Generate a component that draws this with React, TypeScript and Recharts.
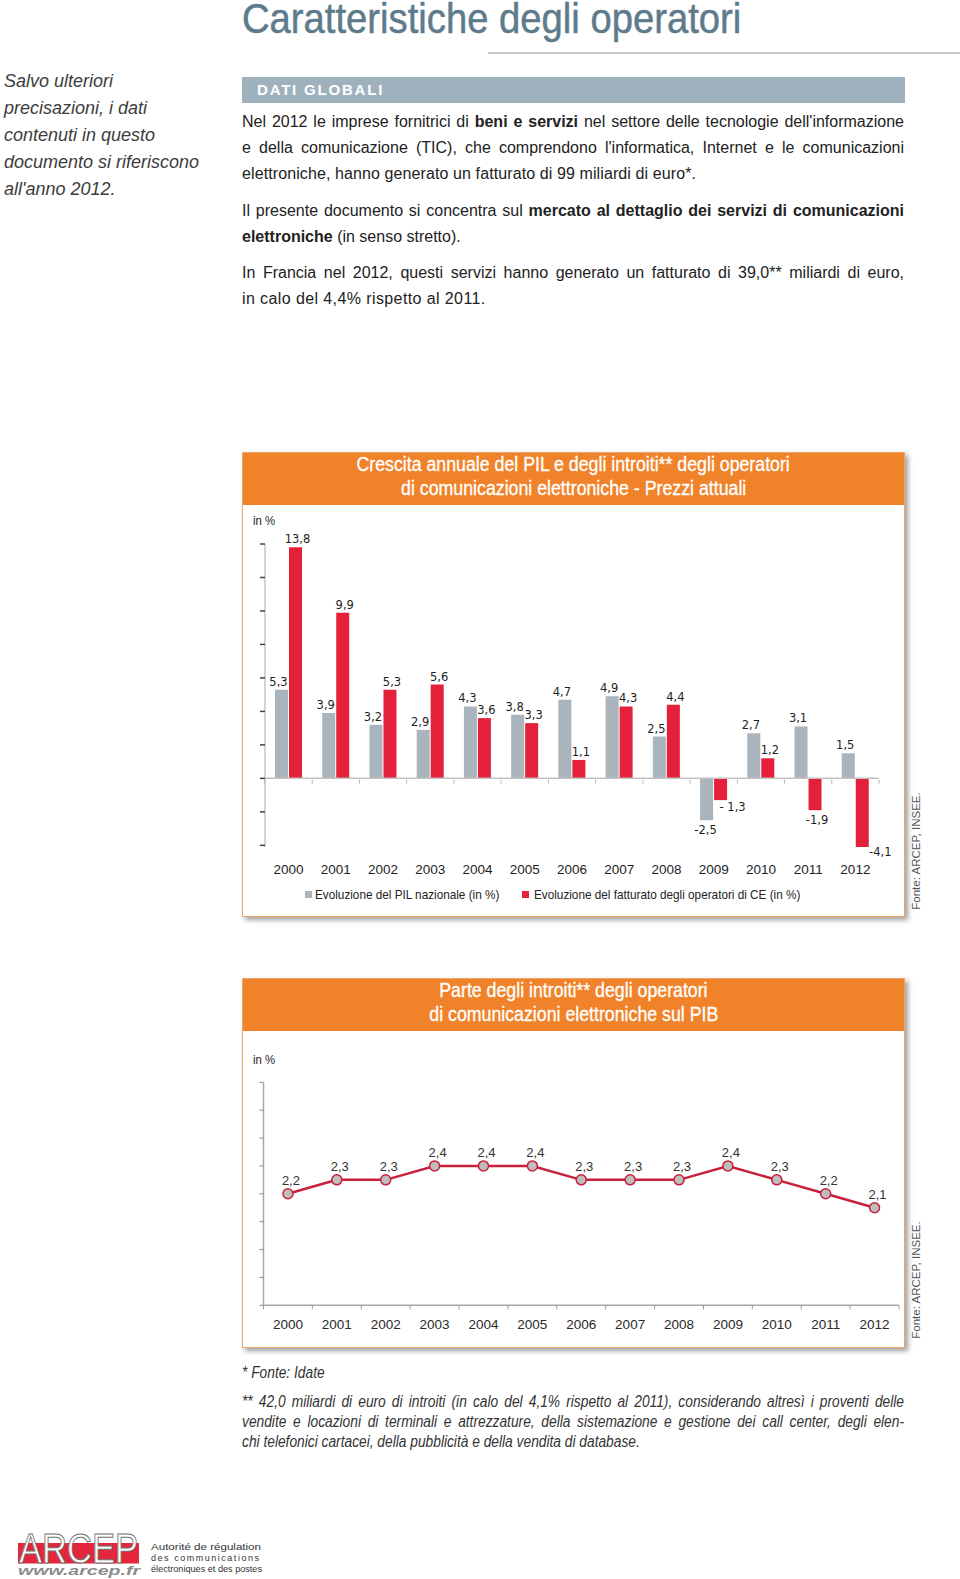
import React from 'react';
import { BarChart, Bar, XAxis, YAxis, ReferenceLine, LabelList, Legend, LineChart, Line } from 'recharts';

// ---------- DATA ----------
const years = ['2000', '2001', '2002', '2003', '2004', '2005', '2006', '2007', '2008', '2009', '2010', '2011', '2012'];
const gdpGrowth = [5.3, 3.9, 3.2, 2.9, 4.3, 3.8, 4.7, 4.9, 2.5, -2.5, 2.7, 3.1, 1.5];
const revenueGrowth = [13.8, 9.9, 5.3, 5.6, 3.6, 3.3, 1.1, 4.3, 4.4, -1.3, 1.2, -1.9, -4.1];
const revenueGrowthLabels = ['13,8', '9,9', '5,3', '5,6', '3,6', '3,3', '1,1', '4,3', '4,4', '- 1,3', '1,2', '-1,9', '-4,1'];
const growthTicks = [-4, -2, 0, 2, 4, 6, 8, 10, 12, 14];
const revenueShareOfGdp = [2.2, 2.3, 2.3, 2.4, 2.4, 2.4, 2.3, 2.3, 2.3, 2.4, 2.3, 2.2, 2.1];
const shareTicks = [1.4, 1.6, 1.8, 2.0, 2.2, 2.4, 2.6, 2.8, 3.0];

const growthData = years.map((year, i) => ({ year, gdp: gdpGrowth[i], revenue: revenueGrowth[i] }));
const shareData = years.map((year, i) => ({ year, share: revenueShareOfGdp[i] }));

const fmt = (v: number) => v.toFixed(1).replace('.', ',');

// ---------- STYLE ----------
const SANS = '"Liberation Sans", Arial, Helvetica, sans-serif';
const VERDANA = '"DejaVu Sans", Verdana, sans-serif';
const TITLE_COLOR = '#5d7b8b';
const BAR_GREY = '#a9b4bd';
const BAR_RED = '#e4203b';
const ORANGE = '#f08329';
const BOX_BORDER = '#efa66b';
const LINE_RED = '#c9203d';

const BOX_LEFT = 242;
const BOX_W = 663;

const C1 = { top: 505, height: 412, margin: { top: 39, right: 26, bottom: 40, left: 0 }, yAxisW: 23, xAxisH: 30 };
const C1_PLOT_W = BOX_W - C1.yAxisW - C1.margin.right;
const C1_PLOT_H = C1.height - C1.margin.top - C1.margin.bottom - C1.xAxisH;
const G_MIN = -4;
const G_MAX = 14;

const C2 = { top: 1031, height: 317, margin: { top: 51.3, right: 6, bottom: 12.7, left: 0 }, yAxisW: 21.5, xAxisH: 30 };
const C2_PLOT_W = BOX_W - C2.yAxisW - C2.margin.right;

// label nudges (dx, dy) for a few bar labels, as in the original layout
const growthLabelNudge: Record<string, [number, number]> = {
  'gdp-9': [2, 0],
  'revenue-9': [10, -3],
  'revenue-12': [16, -5],
};

const Squeeze = ({ s, origin = 'left', children, style }: { s: number; origin?: string; children: React.ReactNode; style?: React.CSSProperties }) => (
  <span style={{ display: 'inline-block', transform: `scaleX(${s})`, transformOrigin: `${origin} center`, whiteSpace: 'nowrap', ...style }}>{children}</span>
);

function makeBarLabel(series: 'gdp' | 'revenue') {
  return (props: any) => {
    const vb = props.viewBox && props.viewBox.width !== undefined ? props.viewBox : props;
    const { x, y, width, height } = vb;
    const index = props.index;
    const value = series === 'gdp' ? gdpGrowth[index] : revenueGrowth[index];
    const text = series === 'gdp' ? fmt(value) : revenueGrowthLabels[index];
    const top = Math.min(y, y + height);
    const bottom = Math.max(y, y + height);
    const nudge = growthLabelNudge[`${series}-${index}`] || [0, 0];
    const cx = x + width / 2 + (series === 'gdp' ? -3 : 2) + nudge[0];
    const cy = (value >= 0 ? top - 8 : bottom + 10) + nudge[1];
    return (
      <text x={cx} y={cy} textAnchor="middle" dominantBaseline="central" fontFamily={VERDANA} fontSize={11.5} fill="#1e1e1e">
        {text}
      </text>
    );
  };
}

const EmptyTick = () => <g />;

const GrowthYearTick = (props: any) => {
  const { x, y, payload, index } = props;
  const band = C1_PLOT_W / years.length;
  const zeroY = y - (C1_PLOT_H * (0 - G_MIN)) / (G_MAX - G_MIN);
  return (
    <g>
      <line x1={x - band / 2} x2={x - band / 2} y1={zeroY} y2={zeroY + 4} stroke="#b5b5b5" />
      {index === years.length - 1 && <line x1={x + band / 2} x2={x + band / 2} y1={zeroY} y2={zeroY + 4} stroke="#b5b5b5" />}
      <text x={x} y={y + 22} textAnchor="middle" dominantBaseline="central" fontFamily={SANS} fontSize={13.5} fill="#1e1e1e">
        {payload.value}
      </text>
    </g>
  );
};

const ShareYearTick = (props: any) => {
  const { x, y, payload, index } = props;
  const band = C2_PLOT_W / years.length;
  return (
    <g>
      <line x1={x - band / 2} x2={x - band / 2} y1={y} y2={y + 4} stroke="#9a9a9a" />
      {index === years.length - 1 && <line x1={x + band / 2} x2={x + band / 2} y1={y} y2={y + 4} stroke="#9a9a9a" />}
      <text x={x} y={y + 19} textAnchor="middle" dominantBaseline="central" fontFamily={SANS} fontSize={13.5} fill="#2a2a2a">
        {payload.value}
      </text>
    </g>
  );
};

const ShareLabel = (props: any) => {
  const { x, y, index } = props;
  const v = revenueShareOfGdp[index];
  return (
    <text x={x + 3} y={y - 13} textAnchor="middle" dominantBaseline="central" fontFamily={SANS} fontSize={13} fill="#333">
      {fmt(v)}
    </text>
  );
};

const GrowthLegend = () => (
  <div style={{ position: 'relative', height: 18, width: BOX_W, fontFamily: SANS, fontSize: 13.5, color: '#222' }}>
    <span style={{ position: 'absolute', left: 63, top: 5, width: 7, height: 7, background: BAR_GREY }} />
    <span style={{ position: 'absolute', left: 73, top: 0, lineHeight: '18px' }}>
      <Squeeze s={0.87}>Evoluzione del PIL nazionale (in %)</Squeeze>
    </span>
    <span style={{ position: 'absolute', left: 280, top: 5, width: 7, height: 7, background: BAR_RED }} />
    <span style={{ position: 'absolute', left: 292, top: 0, lineHeight: '18px' }}>
      <Squeeze s={0.87}>Evoluzione del fatturato degli operatori di CE (in %)</Squeeze>
    </span>
  </div>
);

const justLine: React.CSSProperties = { textAlign: 'justify', textAlignLast: 'justify' as any };

const Box = ({ top, height, lines }: { top: number; height: number; lines: string[] }) => (
  <div
    style={{
      position: 'absolute',
      left: BOX_LEFT,
      top,
      width: BOX_W,
      height,
      boxSizing: 'border-box',
      border: `1.5px solid ${BOX_BORDER}`,
      background: '#fff',
      boxShadow: '3px 3px 5px rgba(0,0,0,0.38)',
    }}
  >
    <div
      style={{
        height: 52,
        background: ORANGE,
        color: '#fff',
        fontFamily: SANS,
        fontSize: 19.5,
        lineHeight: '23.5px',
        textAlign: 'center',
        WebkitTextStroke: '0.3px #fff',
      }}
    >
      {lines.map((l) => (
        <div key={l}>
          <Squeeze s={0.91} origin="center">
            {l}
          </Squeeze>
        </div>
      ))}
    </div>
  </div>
);

const Fonte = ({ cx, cy }: { cx: number; cy: number }) => (
  <div
    style={{
      position: 'absolute',
      left: cx - 70,
      top: cy - 7,
      width: 140,
      height: 14,
      lineHeight: '14px',
      textAlign: 'center',
      transform: 'rotate(-90deg)',
      transformOrigin: 'center',
      fontFamily: SANS,
      fontSize: 11.5,
      color: '#555',
      whiteSpace: 'nowrap',
    }}
  >
    Fonte: ARCEP, INSEE.
  </div>
);

const FOOT_S = 0.86;

export default function App() {
  return (
    <div style={{ position: 'absolute', left: 0, top: 0, width: 960, height: 1579, background: '#fff', overflow: 'hidden', fontFamily: SANS }}>
      {/* Title */}
      <div style={{ position: 'absolute', left: 242, top: 0, fontFamily: SANS, fontSize: 42, lineHeight: '37px', color: TITLE_COLOR, WebkitTextStroke: `0.5px ${TITLE_COLOR}` }}>
        <Squeeze s={0.91}>Caratteristiche degli operatori</Squeeze>
      </div>
      <div style={{ position: 'absolute', left: 488, top: 52, width: 472, height: 1.5, background: '#c9cdd0' }} />

      {/* Sidebar */}
      <div style={{ position: 'absolute', left: 4, top: 67.5, fontFamily: SANS, fontStyle: 'italic', fontSize: 18, lineHeight: '27px', color: '#3c3c3c', whiteSpace: 'nowrap' }}>
        <div>Salvo ulteriori</div>
        <div>precisazioni, i dati</div>
        <div>contenuti in questo</div>
        <div>documento si riferiscono</div>
        <div>all'anno 2012.</div>
      </div>

      {/* Dati globali */}
      <div
        style={{
          position: 'absolute',
          left: BOX_LEFT,
          top: 77,
          width: BOX_W,
          height: 26,
          background: '#9fb1bd',
          color: '#fff',
          fontWeight: 'bold',
          fontSize: 15,
          letterSpacing: 1.8,
          lineHeight: '26px',
          paddingLeft: 15,
          boxSizing: 'border-box',
        }}
      >
        DATI GLOBALI
      </div>
      <div style={{ position: 'absolute', left: BOX_LEFT, top: 109, width: BOX_W - 1, fontSize: 16, lineHeight: '26px', color: '#222' }}>
        <div style={justLine}>
          Nel 2012 le imprese fornitrici di <b>beni e servizi</b> nel settore delle tecnologie dell'informazione
        </div>
        <div style={justLine}>e della comunicazione (TIC), che comprendono l'informatica, Internet e le comunicazioni</div>
        <div style={{ letterSpacing: 0.1 }}>elettroniche, hanno generato un fatturato di 99 miliardi di euro*.</div>
        <div style={{ ...justLine, marginTop: 11 }}>
          Il presente documento si concentra sul <b>mercato al dettaglio dei servizi di comunicazioni</b>
        </div>
        <div>
          <b>elettroniche</b> (in senso stretto).
        </div>
        <div style={{ ...justLine, marginTop: 10 }}>
          In Francia nel 2012, questi servizi hanno generato un fatturato di 39,0** miliardi di euro,
        </div>
        <div style={{ letterSpacing: 0.4 }}>in calo del 4,4% rispetto al 2011.</div>
      </div>

      {/* Chart 1 */}
      <Box top={452} height={465} lines={['Crescita annuale del PIL e degli introiti** degli operatori', 'di comunicazioni elettroniche - Prezzi attuali']} />
      <div style={{ position: 'absolute', left: 253, top: 513, fontSize: 13, lineHeight: '16px', color: '#222' }}>
        <Squeeze s={0.87}>in %</Squeeze>
      </div>
      <div style={{ position: 'absolute', left: BOX_LEFT, top: C1.top }}>
        <BarChart width={BOX_W} height={C1.height} data={growthData} margin={C1.margin} barSize={13} barGap={1}>
          <XAxis
            dataKey="year"
            height={C1.xAxisH}
            axisLine={false}
            tickLine={false}
            tickSize={0}
            tickMargin={0}
            interval={0}
            tick={<GrowthYearTick />}
          />
          <YAxis
            type="number"
            width={C1.yAxisW}
            domain={[G_MIN, G_MAX]}
            ticks={growthTicks}
            interval={0}
            tick={<EmptyTick />}
            tickSize={5}
            axisLine={{ stroke: '#c6c6c6', strokeWidth: 1.5 }}
            tickLine={{ stroke: '#444', strokeWidth: 1.5 }}
          />
          <Bar dataKey="gdp" fill={BAR_GREY} isAnimationActive={false}>
            <LabelList dataKey="gdp" content={makeBarLabel('gdp')} />
          </Bar>
          <Bar dataKey="revenue" fill={BAR_RED} isAnimationActive={false}>
            <LabelList dataKey="revenue" content={makeBarLabel('revenue')} />
          </Bar>
          <ReferenceLine y={0} stroke="#c2c2c2" strokeWidth={1.5} />
          <Legend layout="horizontal" verticalAlign="middle" align="center" wrapperStyle={{ top: 381, left: 0, width: BOX_W, height: 18 }} content={() => <GrowthLegend />} />
        </BarChart>
      </div>
      <Fonte cx={916} cy={851} />

      {/* Chart 2 */}
      <Box top={978} height={370} lines={['Parte degli introiti** degli operatori', 'di comunicazioni elettroniche sul PIB']} />
      <div style={{ position: 'absolute', left: 253, top: 1052, fontSize: 13, lineHeight: '16px', color: '#222' }}>
        <Squeeze s={0.87}>in %</Squeeze>
      </div>
      <div style={{ position: 'absolute', left: BOX_LEFT, top: C2.top }}>
        <LineChart width={BOX_W} height={C2.height} data={shareData} margin={C2.margin}>
          <XAxis
            dataKey="year"
            scale="band"
            height={C2.xAxisH}
            axisLine={{ stroke: '#a8a8a8', strokeWidth: 1.5 }}
            tickLine={false}
            tickSize={0}
            tickMargin={0}
            interval={0}
            tick={<ShareYearTick />}
          />
          <YAxis
            type="number"
            width={C2.yAxisW}
            domain={[1.4, 3.0]}
            ticks={shareTicks}
            interval={0}
            tick={<EmptyTick />}
            tickSize={4}
            axisLine={{ stroke: '#a8a8a8', strokeWidth: 1.5 }}
            tickLine={{ stroke: '#8a8a8a', strokeWidth: 1 }}
          />
          <Line
            type="linear"
            dataKey="share"
            stroke={LINE_RED}
            strokeWidth={2.5}
            dot={{ r: 5, fill: '#bdbdbd', stroke: LINE_RED, strokeWidth: 1.5 }}
            isAnimationActive={false}
          >
            <LabelList dataKey="share" content={<ShareLabel />} />
          </Line>
        </LineChart>
      </div>
      <Fonte cx={916} cy={1280} />

      {/* Footnotes */}
      <div style={{ position: 'absolute', left: BOX_LEFT, top: 1363, fontStyle: 'italic', fontSize: 16, lineHeight: '20px', color: '#333' }}>
        <Squeeze s={FOOT_S}>* Fonte: Idate</Squeeze>
      </div>
      <div
        style={{
          position: 'absolute',
          left: BOX_LEFT,
          top: 1392,
          width: (BOX_W - 1) / FOOT_S,
          transform: `scaleX(${FOOT_S})`,
          transformOrigin: 'left top',
          fontStyle: 'italic',
          fontSize: 16,
          lineHeight: '20px',
          color: '#333',
        }}
      >
        <div style={justLine}>
          ** 42,0 miliardi di euro di introiti (in calo del 4,1% rispetto al 2011), considerando altresì i proventi delle
        </div>
        <div style={justLine}>
          vendite e locazioni di terminali e attrezzature, della sistemazione e gestione dei call center, degli elen-
        </div>
        <div>chi telefonici cartacei, della pubblicità e della vendita di database.</div>
      </div>

      {/* Logo */}
      <svg style={{ position: 'absolute', left: 0, top: 1515 }} width={280} height={64}>
        <rect x={18} y={28} width={121} height={20.5} fill="#e3263b" />
        <text x={19} y={48} fontFamily={SANS} fontSize={43} fill="#fff" stroke="#6f6f6f" strokeWidth={1} textLength={119} lengthAdjust="spacingAndGlyphs">
          ARCEP
        </text>
        <text x={18} y={60} fontFamily={SANS} fontSize={13} fontStyle="italic" fontWeight="bold" fill="#8c8c8c" textLength={122} lengthAdjust="spacingAndGlyphs">
          www.arcep.fr
        </text>
        <text x={151} y={34.5} fontFamily={SANS} fontSize={9} fill="#333" textLength={110} lengthAdjust="spacingAndGlyphs">
          Autorité de régulation
        </text>
        <text x={151} y={45.5} fontFamily={SANS} fontSize={9} fill="#333" textLength={108} lengthAdjust="spacing">
          des communications
        </text>
        <text x={151} y={56.5} fontFamily={SANS} fontSize={9} fill="#333" textLength={111} lengthAdjust="spacingAndGlyphs">
          électroniques et des postes
        </text>
      </svg>
    </div>
  );
}
